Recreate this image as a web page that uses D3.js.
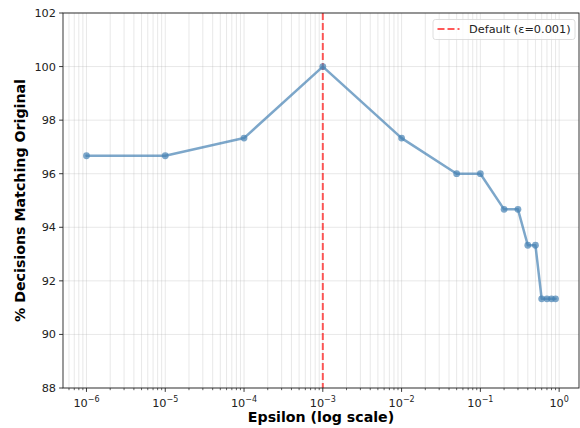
<!DOCTYPE html>
<html><head><meta charset="utf-8">
<script src="https://cdn.jsdelivr.net/npm/d3@7"></script>
<style>body{margin:0;background:#fff}svg{display:block;font-family:"DejaVu Sans",sans-serif}</style>
</head><body><svg id="c" width="580" height="428"></svg>
<script>
const epsilons = [1e-6, 1e-5, 1e-4, 1e-3, 1e-2, 0.05, 0.1, 0.2, 0.3, 0.4, 0.5, 0.6, 0.7, 0.8, 0.9];
const matchPct = [96.67, 96.67, 97.33, 100, 97.33, 96.0, 96.0, 94.67, 94.67, 93.33, 93.33, 91.33, 91.33, 91.33, 91.33];
const yTicks = [88, 90, 92, 94, 96, 98, 100, 102];
const xTickExps = [-6, -5, -4, -3, -2, -1, 0];
const defaultEps = 0.001;
const legendLabel = "Default (ε=0.001)";

const svg = d3.select("#c");
const L = 63, R = 579, T = 13, B = 388;
const x = d3.scaleLog().domain([Math.pow(10, -6.298), Math.pow(10, 0.252)]).range([L, R]);
const y = d3.scaleLinear().domain([88, 102]).range([B, T]);

const minor = [];
for (let e = -7; e <= 0; e++) for (let m = 2; m <= 9; m++) {
  const v = m * Math.pow(10, e);
  if (v >= x.domain()[0] && v <= x.domain()[1]) minor.push(v);
}
const major = xTickExps.map(e => Math.pow(10, e));

const g = svg.append("g");
g.selectAll(".gm").data(minor.concat(major)).enter().append("line")
  .attr("x1", d => x(d)).attr("x2", d => x(d)).attr("y1", T).attr("y2", B)
  .attr("stroke", "#b0b0b0").attr("stroke-opacity", 0.33).attr("stroke-width", 0.9);
g.selectAll(".gy").data(yTicks).enter().append("line")
  .attr("x1", L).attr("x2", R).attr("y1", d => y(d)).attr("y2", d => y(d))
  .attr("stroke", "#b0b0b0").attr("stroke-opacity", 0.33).attr("stroke-width", 0.9);

svg.append("line").attr("x1", x(defaultEps)).attr("x2", x(defaultEps)).attr("y1", T).attr("y2", B)
  .attr("stroke", "#ff0000").attr("stroke-opacity", 0.65).attr("stroke-width", 2)
  .attr("stroke-dasharray", "7,3");

const pts = epsilons.map((e, i) => [e, matchPct[i]]);
svg.append("path").datum(pts)
  .attr("d", d3.line().x(d => x(d[0])).y(d => y(d[1])))
  .attr("fill", "none").attr("stroke", "#4682b4").attr("stroke-opacity", 0.7)
  .attr("stroke-width", 2.5).attr("stroke-linejoin", "round").attr("stroke-linecap", "round");
svg.selectAll(".pt").data(pts).enter().append("circle")
  .attr("cx", d => x(d[0])).attr("cy", d => y(d[1])).attr("r", 3.4)
  .attr("fill", "#4682b4").attr("fill-opacity", 0.7);

svg.append("rect").attr("x", L).attr("y", T).attr("width", R - L).attr("height", B - T)
  .attr("fill", "none").attr("stroke", "#222").attr("stroke-width", 0.9);

const xa = svg.append("g").attr("transform", `translate(0,${B})`);
xa.selectAll(".mt").data(minor).enter().append("line")
  .attr("x1", d => x(d)).attr("x2", d => x(d)).attr("y1", 0).attr("y2", 2.2)
  .attr("stroke", "#222").attr("stroke-width", 0.7);
xa.selectAll(".Mt").data(major).enter().append("line")
  .attr("x1", d => x(d)).attr("x2", d => x(d)).attr("y1", 0).attr("y2", 3.9)
  .attr("stroke", "#222").attr("stroke-width", 0.9);
const xl = xa.selectAll(".xl").data(xTickExps).enter().append("text")
  .attr("x", d => x(Math.pow(10, d))).attr("y", 19).attr("text-anchor", "middle")
  .attr("font-size", 11.3).attr("fill", "#222");
xl.append("tspan").text("10");
xl.append("tspan").attr("dy", -5).attr("font-size", 8).text(d => d < 0 ? "\u2212" + (-d) : String(d));

const ya = svg.append("g");
ya.selectAll(".yt").data(yTicks).enter().append("line")
  .attr("x1", L - 3.9).attr("x2", L).attr("y1", d => y(d)).attr("y2", d => y(d))
  .attr("stroke", "#222").attr("stroke-width", 0.9);
ya.selectAll(".yl").data(yTicks).enter().append("text")
  .attr("x", L - 7).attr("y", d => y(d)).attr("dy", "0.36em").attr("text-anchor", "end")
  .attr("font-size", 11.3).attr("fill", "#222").text(d => d);

svg.append("text").attr("x", (L + R) / 2).attr("y", 422).attr("text-anchor", "middle")
  .attr("font-size", 14.2).attr("font-weight", "bold").attr("fill", "#000").text("Epsilon (log scale)");
svg.append("text").attr("transform", `translate(25,${(T + B) / 2}) rotate(-90)`)
  .attr("text-anchor", "middle").attr("font-size", 14.2).attr("font-weight", "bold").attr("fill", "#000")
  .text("% Decisions Matching Original");

const lg = svg.append("g");
lg.append("rect").attr("x", 433).attr("y", 19.5).attr("width", 142).attr("height", 20).attr("rx", 2.5)
  .attr("fill", "#fff").attr("fill-opacity", 0.8).attr("stroke", "#d6d6d6").attr("stroke-width", 0.8);
lg.append("line").attr("x1", 437.5).attr("x2", 459.5).attr("y1", 29).attr("y2", 29)
  .attr("stroke", "#ff0000").attr("stroke-opacity", 0.65).attr("stroke-width", 2).attr("stroke-dasharray", "7,3");
lg.append("text").attr("x", 469).attr("y", 29).attr("dy", "0.36em").attr("font-size", 11.3).attr("fill", "#222").text(legendLabel);
</script></body></html>
